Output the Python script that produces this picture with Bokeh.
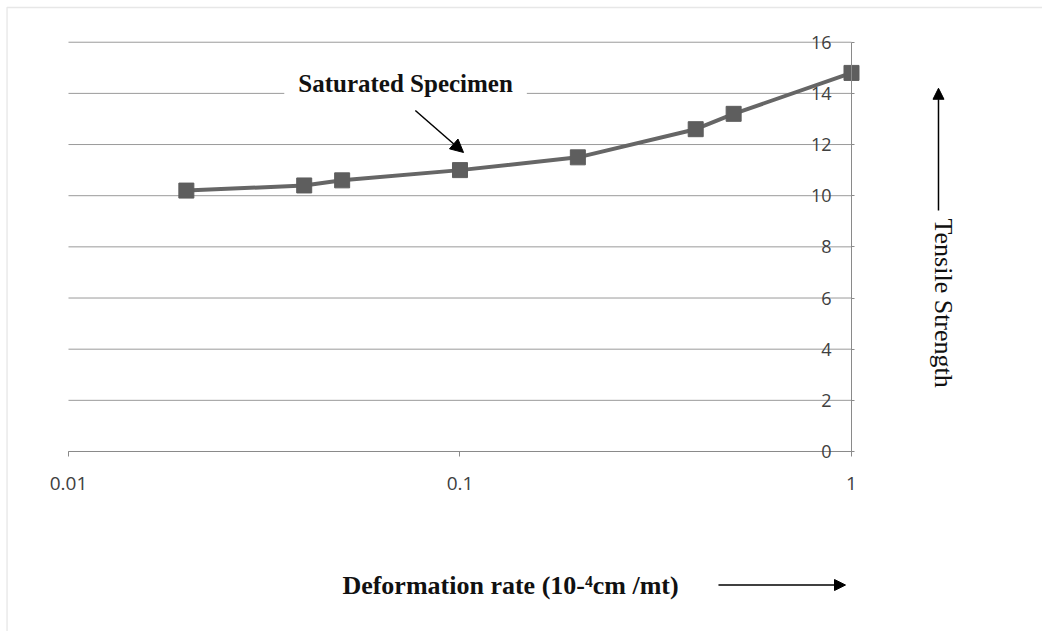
import numpy as np
from bokeh.plotting import figure
from bokeh.models import (Label, Arrow, NormalHead, BoxAnnotation,
                          FixedTicker, Range1d, ColumnDataSource)
from bokeh.embed import file_html
from bokeh.resources import INLINE

# ---- data ----
rate = [0.02, 0.04, 0.05, 0.1, 0.2, 0.4, 0.5, 1.0]
strength = [10.2, 10.4, 10.6, 11.0, 11.5, 12.6, 13.2, 14.8]
x_ticks = [0.01, 0.1, 1]
y_ticks = [0, 2, 4, 6, 8, 10, 12, 14, 16]
series_name = "Saturated Specimen"
x_title = "Deformation rate (10-\u2074cm /mt)"
y_title = "Tensile Strength"

x_min, x_max = x_ticks[0], x_ticks[-1]
y_min, y_max = y_ticks[0], y_ticks[-1]

src = ColumnDataSource(dict(x=rate, y=strength))
grid_src = ColumnDataSource(dict(x0=[x_min] * len(y_ticks), x1=[x_max] * len(y_ticks),
                                 y=y_ticks))

# frame covers the whole canvas; axes are fixed inside it
p = figure(width=1042, height=631, x_axis_type="log",
           x_range=Range1d(10 ** -2.17369, 10 ** 0.48787),
           y_range=Range1d(-7.037, 17.631),
           output_backend="svg", toolbar_location=None,
           min_border=0)
p.outline_line_color = None
p.background_fill_color = "white"
p.border_fill_color = "white"
p.xgrid.visible = False
p.ygrid.visible = False

# horizontal gridlines at the y ticks, spanning the plotted x extent
p.segment(x0="x0", x1="x1", y0="y", y1="y", source=grid_src,
          line_color="#9a9a9a", line_width=1)

# x axis at y = 0
p.xaxis.fixed_location = 0
p.xaxis.bounds = (x_min, x_max)
p.xaxis.ticker = FixedTicker(ticks=x_ticks)
p.xaxis.major_label_overrides = {0.01: "0.01", 0.1: "0.1", 1: "1"}
p.xaxis.axis_line_color = "#8a8a8a"
p.xaxis.major_tick_line_color = "#8a8a8a"
p.xaxis.major_tick_in = 0
p.xaxis.major_tick_out = 5
p.xaxis.minor_tick_line_color = None
p.xaxis.major_label_standoff = 21
p.xaxis.major_label_text_font = "Open Sans"
p.xaxis.major_label_text_font_size = "19px"
p.xaxis.major_label_text_color = "#404040"

# y axis at x = 1, labels on its left
p.yaxis.fixed_location = 1
p.yaxis.bounds = (y_min, y_max)
p.yaxis.ticker = FixedTicker(ticks=y_ticks)
p.yaxis.axis_line_color = "#8a8a8a"
p.yaxis.major_tick_line_color = "#8a8a8a"
p.yaxis.major_tick_in = 3
p.yaxis.major_tick_out = 0
p.yaxis.minor_tick_line_color = None
p.yaxis.major_label_standoff = 20
p.yaxis.major_label_text_font = "Open Sans"
p.yaxis.major_label_text_font_size = "18px"
p.yaxis.major_label_text_color = "#404040"

# series
p.line("x", "y", source=src, line_color="#666666", line_width=4)
p.scatter("x", "y", source=src, marker="square", size=15,
          fill_color="#5e5e5e", line_color="#5e5e5e")

# outer chart border
p.add_layout(BoxAnnotation(left=0.006966, right=3.224, bottom=-7.45, top=17.357,
                           fill_alpha=0, line_color="#b0b0b0", line_width=1.3))

# series name label with white background
p.add_layout(Label(x=0.0726, y=14.4, text=series_name,
                   text_font="Liberation Serif", text_font_style="bold",
                   text_font_size="25px", text_align="center",
                   text_baseline="middle", text_color="#111111",
                   background_fill_color="white", padding=14))
p.add_layout(Arrow(x_start=0.0769, y_start=13.33, x_end=0.1021, y_end=11.69,
                   line_color="black", line_width=1.5,
                   end=NormalHead(size=13, fill_color="black", line_color="black")))

# x title + arrow
p.add_layout(Label(x=0.1346, y=-5.22, text=x_title,
                   text_font="Liberation Serif", text_font_style="bold",
                   text_font_size="26px", text_align="center",
                   text_baseline="middle", text_color="#111111"))
p.add_layout(Arrow(x_start=0.4573, y_start=-5.22, x_end=0.9654, y_end=-5.22,
                   line_color="black", line_width=1.5,
                   end=NormalHead(size=11, fill_color="black", line_color="black")))

# y title + arrow
p.add_layout(Label(x=1.718, y=5.8, text=y_title, angle=-np.pi / 2,
                   text_font="Liberation Serif", text_font_size="26px",
                   text_align="center", text_baseline="middle",
                   text_color="#111111"))
p.add_layout(Arrow(x_start=1.668, y_start=9.42, x_end=1.668, y_end=14.2,
                   line_color="black", line_width=1.5,
                   end=NormalHead(size=11, fill_color="black", line_color="black")))

open("out.html", "w").write(file_html(p, INLINE))
